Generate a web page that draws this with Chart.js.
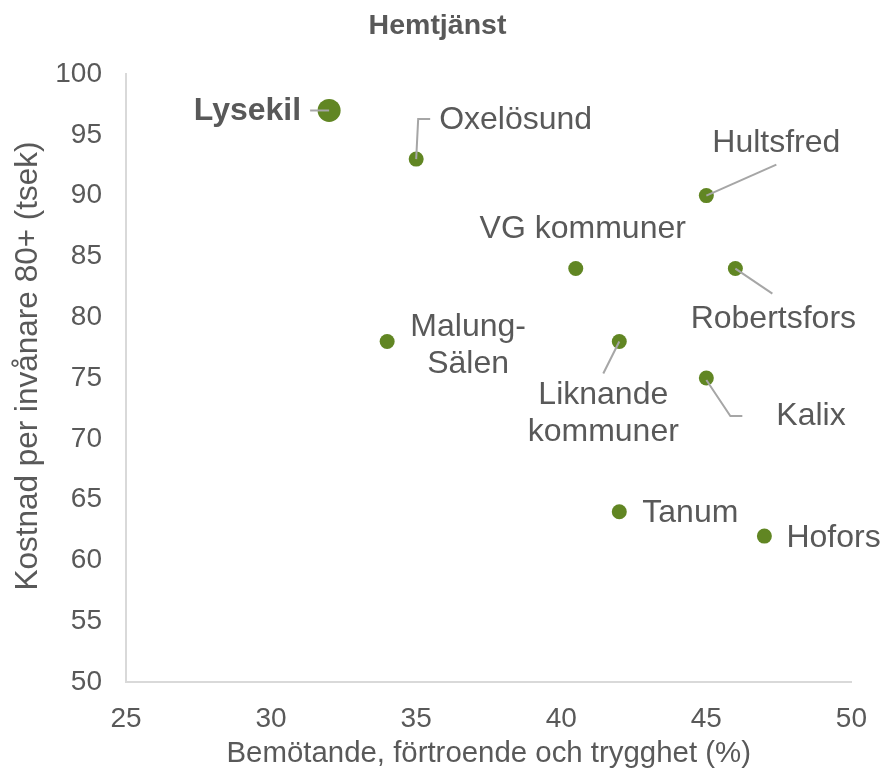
<!DOCTYPE html>
<html>
<head>
<meta charset="utf-8">
<script src="https://cdn.jsdelivr.net/npm/chart.js@4.4.0/dist/chart.umd.min.js"></script>
<style>
  html, body { margin: 0; padding: 0; background: #fff; }
  #wrap { width: 887px; height: 774px; }
</style>
</head>
<body>
<div id="wrap"><canvas id="hemtjanstChart" width="887" height="774"></canvas></div>
<script>
// Data
const cities = ['Lysekil', 'Oxelösund', 'Hultsfred', 'VG kommuner', 'Robertsfors',
    'Malung-Sälen', 'Liknande kommuner', 'Kalix', 'Tanum', 'Hofors'];
const satisfaction = [32, 35, 45, 40.5, 46, 34, 42, 45, 42, 47];   // x, %
const costPer80 = [97, 93, 90, 84, 84, 78, 78, 75, 64, 62];        // y, tsek
const highlight = 'Lysekil';

const xTicks = [25, 30, 35, 40, 45, 50];
const yTicks = [50, 55, 60, 65, 70, 75, 80, 85, 90, 95, 100];

const chartTitle = 'Hemtjänst';
const xTitle = 'Bemötande, förtroende och trygghet (%)';
const yTitle = 'Kostnad per invånare 80+ (tsek)';

const green = '#618623';
const textGray = '#595959';
const lineGray = '#a6a6a6';
const fontFamily = '"Liberation Sans", Arial, sans-serif';

// Label placement relative to each point (pixels)
const labelLayout = {
    'Lysekil':           { lines: ['Lysekil'], dx: -28, dy: 1, align: 'right', bold: true, leader: [[-19, 0], [0, 0]] },
    'Oxelösund':         { lines: ['Oxelösund'], dx: 23, dy: -39, align: 'left', leader: [[0, 0], [2, -40], [14, -40]] },
    'Hultsfred':         { lines: ['Hultsfred'], dx: 70, dy: -52, align: 'center', leader: [[0, 0], [70, -31]] },
    'VG kommuner':       { lines: ['VG kommuner'], dx: 7, dy: -39, align: 'center' },
    'Robertsfors':       { lines: ['Robertsfors'], dx: 38, dy: 51, align: 'center', leader: [[0, 0], [37, 25]] },
    'Malung-Sälen':      { lines: ['Malung-', 'Sälen'], dx: 81, dy: -14, align: 'center' },
    'Liknande kommuner': { lines: ['Liknande', 'kommuner'], dx: -16, dy: 54, align: 'center', leader: [[0, 0], [-16, 32]] },
    'Kalix':             { lines: ['Kalix'], dx: 70, dy: 38, align: 'left', leader: [[0, 2], [24, 38], [36, 38]] },
    'Tanum':             { lines: ['Tanum'], dx: 23, dy: 1, align: 'left' },
    'Hofors':            { lines: ['Hofors'], dx: 22, dy: 2, align: 'left' }
};

// Draws the titles, leader lines and point labels on top of the markers
const pointLabels = {
    id: 'pointLabels',
    afterDatasetsDraw(chart) {
        const ctx = chart.ctx;
        const meta = chart.getDatasetMeta(0);
        ctx.save();
        ctx.fillStyle = textGray;
        ctx.textAlign = 'center';
        ctx.textBaseline = 'middle';
        ctx.font = 'bold 28.5px ' + fontFamily;
        ctx.fillText(chartTitle, 437.5, 26.5);

        // y axis title, centred a bit above the plot middle as in Excel
        ctx.save();
        ctx.translate(28, 366);
        ctx.rotate(-Math.PI / 2);
        ctx.font = '31.5px ' + fontFamily;
        ctx.fillText(yTitle, 0, 0);
        ctx.restore();

        meta.data.forEach((pt, i) => {
            const cfg = labelLayout[cities[i]];
            if (!cfg) return;
            if (cfg.leader) {
                ctx.beginPath();
                ctx.strokeStyle = lineGray;
                ctx.lineWidth = 2;
                cfg.leader.forEach((p, k) => {
                    if (k === 0) ctx.moveTo(pt.x + p[0], pt.y + p[1]);
                    else ctx.lineTo(pt.x + p[0], pt.y + p[1]);
                });
                ctx.stroke();
            }
            ctx.fillStyle = textGray;
            ctx.font = (cfg.bold ? 'bold ' : '') + '32px ' + fontFamily;
            ctx.textAlign = cfg.align;
            ctx.textBaseline = 'middle';
            cfg.lines.forEach((txt, k) => {
                ctx.fillText(txt, pt.x + cfg.dx, pt.y + cfg.dy + k * 37);
            });
        });
        ctx.restore();
    }
};

const ctx = document.getElementById('hemtjanstChart').getContext('2d');
new Chart(ctx, {
    type: 'scatter',
    data: {
        datasets: [{
            label: chartTitle,
            data: satisfaction.map((x, i) => ({ x: x, y: costPer80[i] })),
            backgroundColor: green,
            borderColor: green,
            borderWidth: 0,
            pointRadius: cities.map(c => c === highlight ? 11.5 : 7.5),
            pointHoverRadius: cities.map(c => c === highlight ? 11.5 : 7.5)
        }]
    },
    options: {
        responsive: false,
        animation: false,
        events: [],
        layout: {
            padding: { left: 0, right: 34, top: 74, bottom: 0 }
        },
        scales: {
            x: {
                type: 'linear',
                min: 25,
                max: 50,
                afterBuildTicks: scale => { scale.ticks = xTicks.map(v => ({ value: v })); },
                afterFit: scale => { scale.height = 92; },
                grid: { display: false, drawTicks: false },
                border: { display: true, color: '#d9d9d9', width: 2 },
                ticks: {
                    color: textGray,
                    padding: 20,
                    maxRotation: 0,
                    font: { family: fontFamily, size: 28 }
                },
                title: {
                    display: true,
                    text: xTitle,
                    color: textGray,
                    padding: { top: 0, bottom: 2 },
                    font: { family: fontFamily, size: 29.4 }
                }
            },
            y: {
                type: 'linear',
                min: 50,
                max: 100,
                afterBuildTicks: scale => { scale.ticks = yTicks.map(v => ({ value: v })); },
                afterFit: scale => { scale.width = 126; },
                grid: { display: false, drawTicks: false },
                border: { display: true, color: '#d9d9d9', width: 2 },
                ticks: {
                    color: textGray,
                    padding: 24,
                    font: { family: fontFamily, size: 28 }
                },
                title: { display: false }
            }
        },
        plugins: {
            legend: { display: false },
            tooltip: { enabled: false },
            title: { display: false }
        }
    },
    plugins: [pointLabels]
});
</script>
</body>
</html>
